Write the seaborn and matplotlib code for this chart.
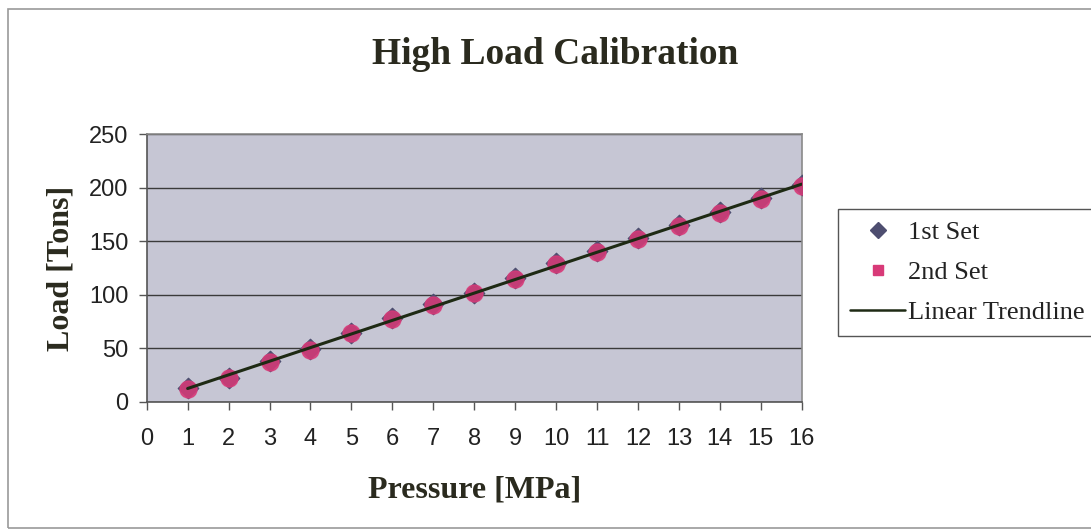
import numpy as np
import pandas as pd
import matplotlib
matplotlib.use("Agg")
import matplotlib.pyplot as plt
from matplotlib.lines import Line2D
from matplotlib.patches import Rectangle
import seaborn as sns

# ---- data ----
pressure = [1, 2, 3, 4, 5, 6, 7, 8, 9, 10, 11, 12, 13, 14, 15, 16]
load_set1 = [12.8, 22.8, 37.8, 49.2, 64.8, 78.0, 91.2, 101.8, 115.4, 129.6, 140.8, 152.8, 164.8, 177.0, 190.0, 202.0]
load_set2 = [12.4, 22.4, 37.2, 48.6, 64.4, 77.4, 90.6, 101.4, 114.6, 129.0, 140.2, 152.4, 164.2, 176.4, 189.4, 201.8]
x_ticks = list(range(0, 17))
y_ticks = [0, 50, 100, 150, 200, 250]
series_names = ["1st Set", "2nd Set"]
trend_name = "Linear Trendline"

df = pd.DataFrame({
    "Pressure": pressure * 2,
    "Load": load_set1 + load_set2,
    "Set": [series_names[0]] * len(pressure) + [series_names[1]] * len(pressure),
})

sns.set_theme(style="white")
plt.rcParams["font.family"] = ["Liberation Sans", "DejaVu Sans"]

fig = plt.figure(figsize=(10.91, 5.29), dpi=100)
ax = fig.add_axes([146.7 / 1091, 1 - 402 / 529, (801.7 - 146.7) / 1091, (402 - 134) / 529])
ax.set_facecolor("#c6c6d4")

# outer chart border
fig.patches.append(Rectangle((8 / 1091, 1 / 529), 1.2, 1 - 10 / 529, transform=fig.transFigure,
                             fill=False, edgecolor="#9a9a9a", linewidth=1.2, zorder=0))

ax.grid(axis="y", color="#3a3a3a", linewidth=1.0)
ax.grid(axis="x", visible=False)
ax.set_axisbelow(True)

c1 = "#4e4e70"
c2 = "#d83a78"
sns.scatterplot(data=df[df["Set"] == series_names[0]], x="Pressure", y="Load", marker="D",
                s=110, color=c1, edgecolor=c1, ax=ax, zorder=3, legend=False)
sns.scatterplot(data=df[df["Set"] == series_names[1]], x="Pressure", y="Load", marker="o",
                s=150, color=c2, edgecolor=c2, alpha=0.85, ax=ax, zorder=4, legend=False)
sns.regplot(data=df, x="Pressure", y="Load", scatter=False, ci=None, ax=ax,
            line_kws={"color": "#1e2a14", "linewidth": 2.2, "zorder": 5})

ax.set_xlim(0, 16)
ax.set_ylim(0, 250)
ax.set_xticks(x_ticks)
ax.set_yticks(y_ticks)
ax.tick_params(axis="both", which="both", length=6, width=1, color="#555555",
               direction="out", labelsize=17, labelcolor="#222222", pad=7,
               bottom=True, left=True)
ax.tick_params(axis="x", pad=13)

for side in ["left", "bottom"]:
    ax.spines[side].set_color("#555555")
    ax.spines[side].set_linewidth(1.2)
for side in ["top", "right"]:
    ax.spines[side].set_color("#8a8a8a")
    ax.spines[side].set_linewidth(1.2)

serif = ["Liberation Serif", "DejaVu Serif"]
ax.set_xlabel("Pressure [MPa]", fontsize=23, fontweight="bold", family=serif,
              color="#2a2a1e", labelpad=18)
ax.set_ylabel("Load [Tons]", fontsize=23, fontweight="bold", family=serif,
              color="#2a2a1e", labelpad=10)
fig.text(555 / 1091, 1 - 54 / 529, "High Load Calibration", ha="center", va="center",
         fontsize=27, fontweight="bold", family=serif, color="#2a2a1e")

handles = [
    Line2D([], [], marker="D", linestyle="none", color=c1, markersize=8),
    Line2D([], [], marker="s", linestyle="none", color=c2, markersize=7),
    Line2D([], [], color="#1e2a14", linewidth=1.8),
]
leg = fig.legend(handles, series_names + [trend_name], loc="upper left",
                 bbox_to_anchor=(838 / 1091, 1 - 209 / 529),
                 prop={"family": serif, "size": 19}, frameon=True, fancybox=False,
                 edgecolor="#555555", framealpha=1, handlelength=2.1,
                 handletextpad=0.1, labelspacing=0.62, borderpad=0.45,
                 borderaxespad=0)
leg.get_frame().set_linewidth(1.0)
for t in leg.get_texts():
    t.set_color("#222222")

fig.savefig("out.png", dpi=100)
